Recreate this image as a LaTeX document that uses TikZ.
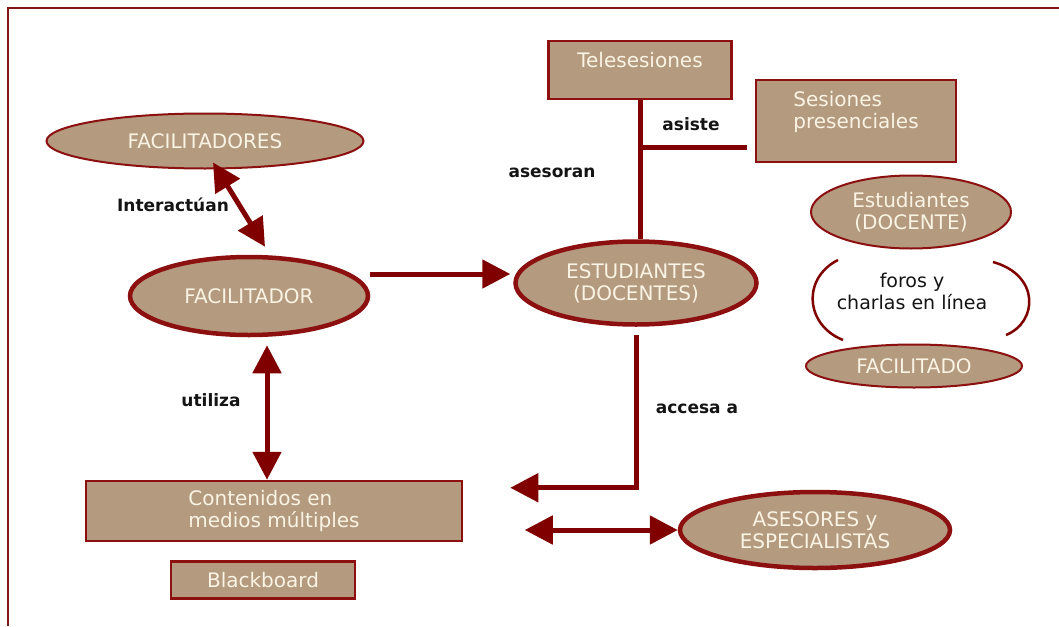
\documentclass[tikz,border=0pt]{standalone}
\usepackage{fontspec}
\setmainfont{DejaVu Sans}
\usepackage{tikz}
\usetikzlibrary{
  shapes.geometric,
  arrows.meta,
  calc
}
\definecolor{framecolor}{RGB}{128, 24, 24}
\definecolor{shapefill}{RGB}{180, 154, 126}
\definecolor{shapeline}{RGB}{140, 16, 16}
\definecolor{shapetextcolor}{RGB}{250, 244, 228}
\definecolor{arrowcolor}{RGB}{128, 0, 0}
\definecolor{labelcolor}{RGB}{20, 20, 20}
\tikzset{
shapetext/.style={
  align=center,
  font=\fontsize{20}{22}\selectfont,
  text=shapetextcolor
},
thinoval/.style={
  ellipse,
  draw=shapeline,
  line width=2pt,
  fill=shapefill,
  inner sep=0pt,
  shapetext
},
thickoval/.style={
  thinoval,
  line width=4.5pt
},
box/.style={
  rectangle,
  draw=shapeline,
  line width=2.5pt,
  fill=shapefill,
  inner sep=0pt,
  shapetext
},
linklabel/.style={
  font=\bfseries\fontsize{17}{20}\selectfont,
  text=labelcolor
},
forotext/.style={
  align=center,
  font=\fontsize{19}{22}\selectfont,
  text=labelcolor
},
link/.style={
  draw=arrowcolor,
  line width=5pt
},
bracket/.style={
  draw=arrowcolor,
  line width=2.5pt
},
arrow/.style={
  link,
  -{Triangle[length=28pt,width=28pt]}
},
dblarrow/.style={
  link,
  {Triangle[length=28pt,width=28pt]}-{Triangle[length=28pt,width=28pt]}
}
}
\begin{document}
\begin{tikzpicture}[x=1pt, y=-1pt]
  \useasboundingbox (0,0) rectangle (1059,626);
  \draw[framecolor, line width=2pt] (8,626) -- (8,8) -- (1059,8);

  % ovals and boxes
  \node[thinoval, minimum width=317pt, minimum height=55pt] (facs) at (205,141) {FACILITADORES};
  \node[thickoval, minimum width=238pt, minimum height=78pt] (fac) at (249,296) {FACILITADOR};
  \node[thickoval, minimum width=241pt, minimum height=83pt] (est) at (636,283) {ESTUDIANTES\\(DOCENTES)};
  \node[thickoval, minimum width=270pt, minimum height=76pt] (ase) at (815,530) {ASESORES y\\ESPECIALISTAS};
  \node[thinoval, minimum width=200pt, minimum height=73pt] (estd) at (911,212) {Estudiantes\\(DOCENTE)};
  \node[thinoval, minimum width=216pt, minimum height=43pt] (faco) at (914,366) {FACILITADO};
  \node[box, minimum width=183pt, minimum height=58pt, text depth=20pt] (tele) at (640,70) {Telesesiones};
  \node[box, minimum width=200pt, minimum height=82pt, align=left, text depth=22pt] (ses) at (856,121) {Sesiones\\presenciales};
  \node[box, minimum width=376pt, minimum height=60pt, align=left] (cont) at (274,511) {Contenidos en\\ medios múltiples};
  \node[box, minimum width=184pt, minimum height=37pt] (black) at (263,580) {Blackboard};

  % labels
  \node[linklabel] (linter) at (173,205) {Interactúan};
  \node[linklabel] (luti) at (211,400) {utiliza};
  \node[linklabel] (lases) at (552,173) {asesoran};
  \node[linklabel] (lasis) at (691,124) {asiste};
  \node[linklabel] (lacc) at (697,409) {accesa a};
  \node[forotext] (foro) at (912,291) {foros y\\charlas en línea};

  % connectors
  \draw[dblarrow] ([xshift=8pt,yshift=7pt]facs.south) -- ([xshift=16pt,yshift=8pt]fac.north);
  \draw[arrow] ([yshift=22pt]fac.east) -- ([xshift=-3pt,yshift=9pt]est.west);
  \draw[link] (tele.south) -- (tele.south |- est.north);
  \draw[link] ([xshift=-8pt,yshift=16pt]ses.south west) -| (tele.south);
  \draw[arrow] ([yshift=-8pt]est.south) |- ([xshift=47pt,yshift=-8pt]cont.north east);
  \draw[dblarrow] ([xshift=-7pt]cont.north) -- ([xshift=-7pt,yshift=-8pt]cont.north |- fac.south);
  \draw[dblarrow] ([xshift=-153pt]ase.west) -- (ase.west);

  % brackets round the forum text
  \draw[bracket] (838,260) .. controls (802,278) and (805,325) .. (843,340);
  \draw[bracket] (993,262) .. controls (1040,275) and (1038,322) .. (1006,335);
\end{tikzpicture}
\end{document}
